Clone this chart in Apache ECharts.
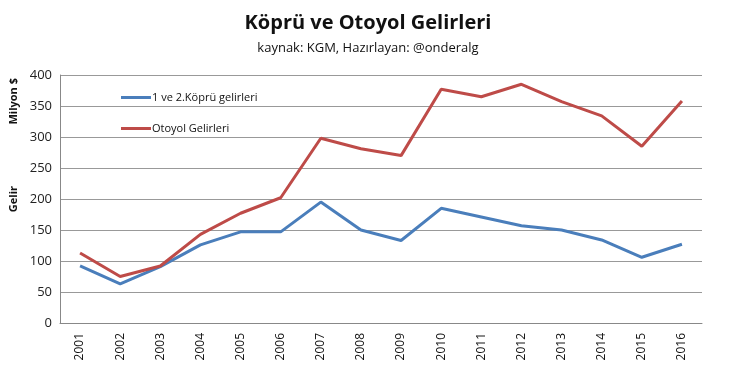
<!DOCTYPE html>
<html><head><meta charset="utf-8">
<script src="https://cdn.jsdelivr.net/npm/echarts@6/dist/echarts.min.js"></script>
<style>html,body{margin:0;padding:0;background:#fff}#c{width:736px;height:378px}</style>
</head><body><div id="c"></div>
<script>
var years = ['2001','2002','2003','2004','2005','2006','2007','2008','2009','2010','2011','2012','2013','2014','2015','2016'];
var kopru = [92,63,91,126,147,147,195,150,133,185,171,157,150,134,106,127];
var otoyol = [113,75,92,143,177,202,298,281,270,377,365,385,357,334,285,358];
var seriesNames = ['1 ve 2.Köprü gelirleri','Otoyol Gelirleri'];
var chart = echarts.init(document.getElementById('c'));
var ff = "'Open Sans', 'DejaVu Sans', sans-serif";
chart.setOption({
  animation:false,
  title:{text:'Köprü ve Otoyol Gelirleri', subtext:'kaynak: KGM, Hazırlayan: @onderalg', left:'center', top:8,
    textStyle:{fontFamily:ff, fontSize:20, fontWeight:'bold', color:'#111'},
    subtextStyle:{fontFamily:ff, fontSize:13, color:'#111'}, itemGap:9},
  legend:{orient:'vertical', left:116, top:87, itemWidth:30, itemHeight:3, itemGap:20,
    icon:'rect', textStyle:{fontFamily:ff, fontSize:11, color:'#111', padding:[0,0,0,-4]},
    data:seriesNames},
  grid:{left:60, right:34, top:75, bottom:55},
  xAxis:{type:'category', data:years, boundaryGap:true,
    axisLine:{lineStyle:{color:'#888'}}, axisTick:{show:false},
    axisLabel:{rotate:90, fontFamily:ff, fontSize:12, color:'#111', margin:10}},
  yAxis:{type:'value', min:0, max:400, interval:50,
    axisLine:{show:true, lineStyle:{color:'#888'}}, axisTick:{show:false},
    axisLabel:{fontFamily:ff, fontSize:13, color:'#222', margin:8},
    splitLine:{lineStyle:{color:'#999', width:1}}},
  graphic:[
    {type:'text', left:8, top:78, rotation:Math.PI/2, style:{text:'Milyon $', font:'bold 11px '+ff, fill:'#111'}},
    {type:'text', left:8, top:186, rotation:Math.PI/2, style:{text:'Gelir', font:'bold 11px '+ff, fill:'#111'}}
  ],
  series:[
    {name:seriesNames[0], type:'line', data:kopru, symbol:'none', lineStyle:{color:'#4a7ebb', width:3}, itemStyle:{color:'#4a7ebb'}},
    {name:seriesNames[1], type:'line', data:otoyol, symbol:'none', lineStyle:{color:'#be4b48', width:3}, itemStyle:{color:'#be4b48'}}
  ]
});
</script></body></html>
